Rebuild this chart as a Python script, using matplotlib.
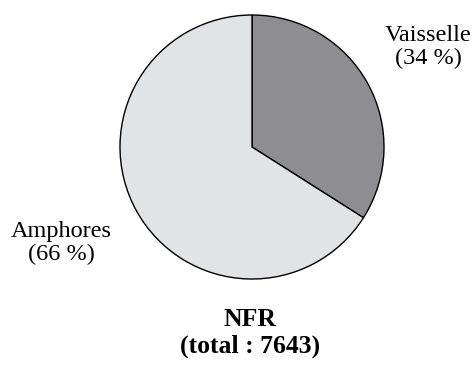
import matplotlib
matplotlib.use("Agg")
import matplotlib.pyplot as plt

# NFR breakdown
labels = ["Vaisselle", "Amphores"]
shares = [34, 66]
total = 7643
colors = ["#8e8e90", "#e2e3e5"]

plt.rcParams["font.family"] = ["Liberation Serif", "DejaVu Serif"]

fig = plt.figure(figsize=(4.75, 3.65), dpi=100)
ax = fig.add_axes([0, 0, 1, 1])

ax.pie(shares, colors=colors, startangle=90, counterclock=False,
       center=(252, 218), radius=132,
       wedgeprops=dict(edgecolor="black", linewidth=1.0))

ax.set_xlim(0, 475)
ax.set_ylim(0, 365)
ax.set_aspect("equal")
ax.axis("off")

ax.text(428, 318, f"{labels[0]}\n({shares[0]} %)", ha="center", va="center",
        fontsize=17.5, linespacing=1.12)
ax.text(61, 122, f"{labels[1]}\n({shares[1]} %)", ha="center", va="center",
        fontsize=17.5, linespacing=1.12)
ax.text(250, 32, f"NFR\n(total : {total})", ha="center", va="center",
        fontsize=18.5, fontweight="bold", linespacing=1.15)

fig.savefig("out.png", dpi=100)
